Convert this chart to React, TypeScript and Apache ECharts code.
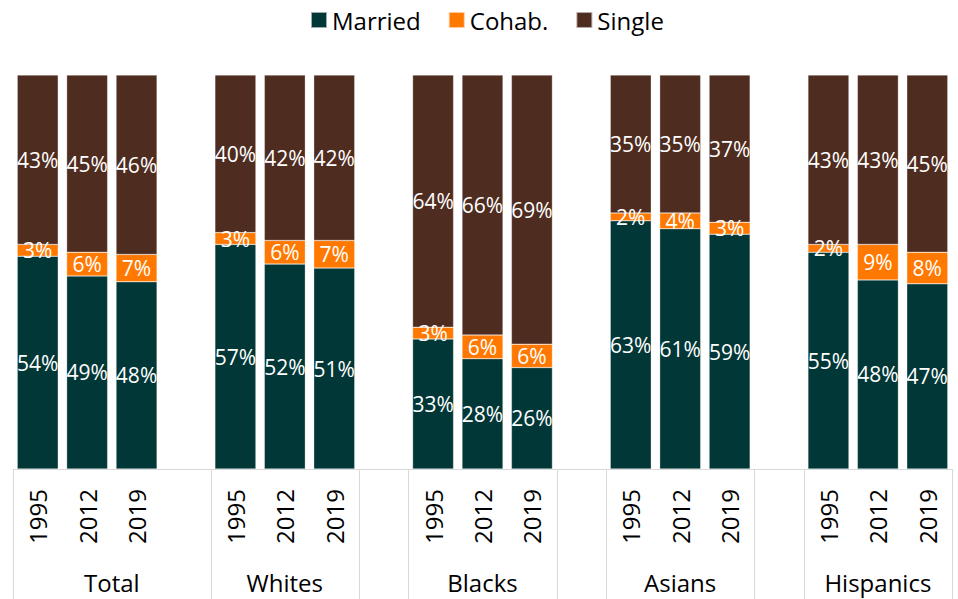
import React, { useEffect, useRef } from "react";
import * as echarts from "echarts";

const groups = ["Total", "Whites", "Blacks", "Asians", "Hispanics"];
const years = ["1995", "2012", "2019"];
const married = [54, 49, 48, 57, 52, 51, 33, 28, 26, 63, 61, 59, 55, 48, 47];
const cohab = [3, 6, 7, 3, 6, 7, 3, 6, 6, 2, 4, 3, 2, 9, 8];
const single = [43, 45, 46, 40, 42, 42, 64, 66, 69, 35, 35, 37, 43, 43, 45];
const seriesNames = ["Married", "Cohab.", "Single"];
const colors = ["#023737", "#FF7800", "#4F2C20"];

const FONT = "'Open Sans', 'Noto Sans', sans-serif";

type Slot = { id: string; year: string; idx: number };

function buildSlots() {
  const slots: Slot[] = [];
  const spans: { name: string; start: number; end: number }[] = [];
  groups.forEach((g, gi) => {
    const start = slots.length;
    years.forEach((y, yi) => {
      slots.push({ id: g + "-" + y, year: y, idx: gi * years.length + yi });
    });
    let end = slots.length;
    if (gi < groups.length - 1) {
      slots.push({ id: g + "-blank", year: "", idx: -1 });
      // the first group's bracket also covers its trailing blank slot
      if (gi === 0) end = slots.length;
    }
    spans.push({ name: g, start, end });
  });
  return { slots, spans };
}

export default function App() {
  const ref = useRef<HTMLDivElement>(null);
  useEffect(() => {
    if (!ref.current) return;
    const chart = echarts.init(ref.current, null, { renderer: "svg" });
    const { slots, spans } = buildSlots();
    const arrays = [married, cohab, single];
    const series = arrays.map((arr, si) => ({
      name: seriesNames[si],
      type: "bar",
      stack: "total",
      barWidth: 41,
      itemStyle: { color: colors[si], borderColor: "rgba(255,255,255,0.6)", borderWidth: 0.5 },
      label: {
        show: true,
        position: "inside",
        color: "#ffffff",
        fontFamily: FONT,
        fontSize: 21,
        formatter: (p: any) => (p.data && p.data.raw != null ? p.data.raw + "%" : ""),
      },
      data: slots.map((s) => {
        if (s.idx < 0) return "-";
        const total = married[s.idx] + cohab[s.idx] + single[s.idx];
        return { value: (arr[s.idx] / total) * 100, raw: arr[s.idx] };
      }),
    }));

    chart.setOption({
      animation: false,
      color: colors,
      legend: {
        data: seriesNames,
        left: 310,
        top: 8,
        icon: "rect",
        itemWidth: 16,
        itemHeight: 16,
        itemGap: 27,
        padding: 0,
        textStyle: { fontFamily: FONT, fontSize: 24, color: "#000" },
      },
      grid: { left: 13, right: 6, top: 75, bottom: 130, containLabel: false },
      xAxis: {
        type: "category",
        data: slots.map((s) => s.id),
        axisLine: { show: true, lineStyle: { color: "#d9d9d9", width: 1 } },
        axisTick: { show: false },
        axisLabel: {
          interval: 0,
          rotate: 90,
          margin: 20,
          fontFamily: FONT,
          fontSize: 24,
          color: "#000",
          formatter: (v: string) => {
            const s = slots.find((x) => x.id === v);
            return s ? s.year : "";
          },
        },
      },
      yAxis: { type: "value", min: 0, max: 100, show: false, splitLine: { show: false } },
      series,
    });

    const c0 = chart.convertToPixel({ xAxisIndex: 0 }, 0) as number;
    const c1 = chart.convertToPixel({ xAxisIndex: 0 }, 1) as number;
    const w = c1 - c0;
    const bx = (i: number) => c0 - w / 2 + i * w;
    const axisY = chart.convertToPixel({ yAxisIndex: 0 }, 0) as number;
    const bounds = new Set<number>();
    spans.forEach((sp) => {
      bounds.add(sp.start);
      bounds.add(sp.end);
    });
    const graphic: any[] = [];
    bounds.forEach((b) => {
      const x = Math.round(bx(b)) + 0.5;
      graphic.push({
        type: "line",
        shape: { x1: x, y1: axisY, x2: x, y2: 599 },
        style: { stroke: "#d9d9d9", lineWidth: 1 },
        silent: true,
      });
    });
    spans.forEach((sp) => {
      graphic.push({
        type: "text",
        x: (bx(sp.start) + bx(sp.end)) / 2,
        y: 582,
        style: {
          text: sp.name,
          fontFamily: FONT,
          fontSize: 24,
          fill: "#000",
          align: "center",
          verticalAlign: "middle",
        },
        silent: true,
      });
    });
    chart.setOption({ graphic });

    return () => chart.dispose();
  }, []);
  return <div ref={ref} style={{ position: "absolute", left: 0, top: 0, width: 958, height: 599 }} />;
}
